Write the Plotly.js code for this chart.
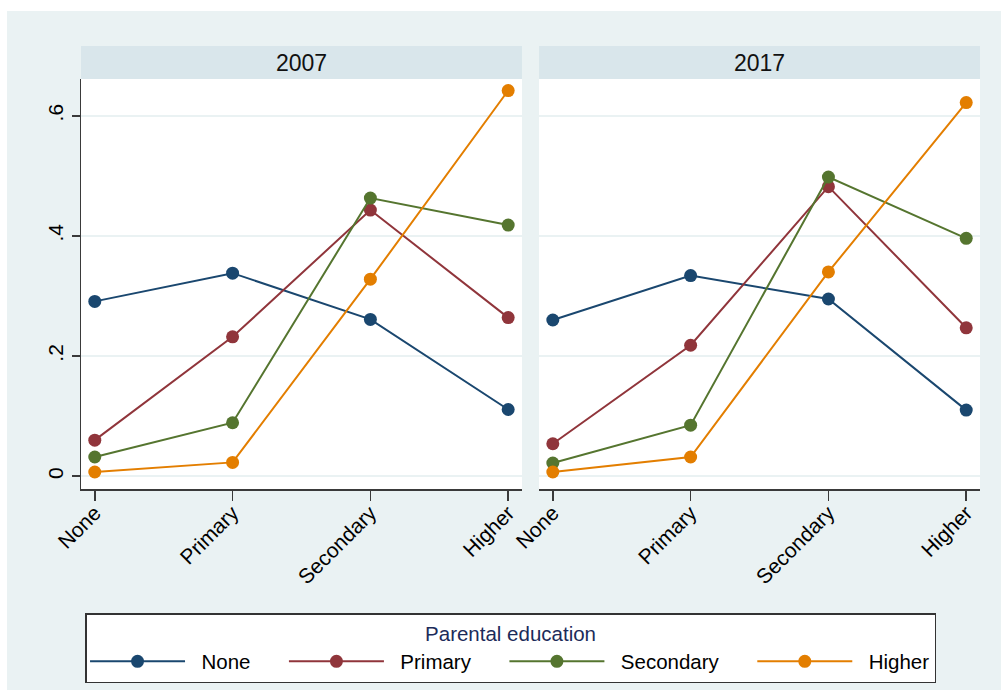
<!DOCTYPE html>
<html>
<head>
<meta charset="utf-8">
<script src="https://cdn.plot.ly/plotly-3.0.1.min.js"></script>
<style>
  html, body { margin: 0; padding: 0; background: #ffffff; }
  #chart { position: absolute; left: 7px; top: 11px; width: 994px; height: 679px; }
</style>
</head>
<body>
<div id="chart"></div>
<script>
// ---- Data ----
var categories = ['None', 'Primary', 'Secondary', 'Higher'];
var panels = ['2007', '2017'];
var seriesNames = ['None', 'Primary', 'Secondary', 'Higher'];
var legendTitle = 'Parental education';

var none2007      = [0.291, 0.338, 0.261, 0.111];
var primary2007   = [0.060, 0.232, 0.443, 0.264];
var secondary2007 = [0.032, 0.089, 0.463, 0.418];
var higher2007    = [0.007, 0.023, 0.328, 0.642];

var none2017      = [0.260, 0.334, 0.295, 0.110];
var primary2017   = [0.054, 0.218, 0.482, 0.247];
var secondary2017 = [0.022, 0.085, 0.498, 0.396];
var higher2017    = [0.007, 0.032, 0.340, 0.622];

var yTickVals = [0, 0.2, 0.4, 0.6];
var yTickText = ['0', '.2', '.4', '.6'];

// ---- Styling ----
var colors = ['#1A476F', '#90353B', '#55752F', '#E37E00'];
var FONT = '"Liberation Sans", Arial, sans-serif';
var axisColor = '#3a3a3a';
var gridColor = '#EAF2F3';
var bgColor = '#EAF2F3';
var headerColor = '#D9E6EB';

var NB = '\u00A0';
function pad(n) { return new Array(n + 1).join(NB); }
// legend label spacing (Stata puts wider gaps around legend labels)
function legendLabel(name, isLast) {
  return pad(2) + name + (isLast ? '' : pad(5));
}

var data2007 = [none2007, primary2007, secondary2007, higher2007];
var data2017 = [none2017, primary2017, secondary2017, higher2017];

var traces = [];
function addPanel(values, xa, ya, showLegend) {
  for (var i = 0; i < values.length; i++) {
    traces.push({
      type: 'scatter',
      mode: 'lines+markers',
      x: categories,
      y: values[i],
      xaxis: xa,
      yaxis: ya,
      name: legendLabel(seriesNames[i], i === values.length - 1),
      legendgroup: seriesNames[i],
      showlegend: showLegend,
      line: { color: colors[i], width: 2 },
      marker: { color: colors[i], size: 13 },
      hoverinfo: 'skip'
    });
  }
}
addPanel(data2007, 'x', 'y', true);
addPanel(data2017, 'x2', 'y2', false);

var xRange = [-0.1, 3.1];
var yRange = [-0.0213, 0.6612];

var xCommon = {
  type: 'category',
  categoryorder: 'array',
  categoryarray: categories,
  range: xRange,
  showline: true, linecolor: axisColor, linewidth: 1.5,
  ticks: 'outside', ticklen: 10, tickwidth: 1.5, tickcolor: axisColor,
  tickangle: -45,
  ticklabelstandoff: -8,
  tickfont: { family: FONT, size: 21, color: '#000' },
  showgrid: false, zeroline: false,
  automargin: false,
  fixedrange: true
};

var layout = {
  width: 994, height: 679,
  paper_bgcolor: bgColor,
  plot_bgcolor: '#ffffff',
  font: { family: FONT, size: 20, color: '#000' },
  margin: { l: 74, r: 21, t: 68, b: 200.5, pad: 0, autoexpand: false },
  showlegend: true,
  xaxis: Object.assign({}, xCommon, { domain: [0, 0.4905], anchor: 'y' }),
  xaxis2: Object.assign({}, xCommon, { domain: [0.5095, 1], anchor: 'y2' }),
  yaxis: {
    domain: [0, 1], anchor: 'x', range: yRange,
    tickvals: yTickVals, ticktext: yTickText,
    showline: true, linecolor: axisColor, linewidth: 1.5,
    ticks: 'outside', ticklen: 8, tickwidth: 1.5, tickcolor: axisColor,
    tickangle: -90,
    tickfont: { family: FONT, size: 21, color: '#000' },
    showgrid: true, gridcolor: gridColor, gridwidth: 2,
    zeroline: false, automargin: false, fixedrange: true
  },
  yaxis2: {
    domain: [0, 1], anchor: 'x2', range: yRange, matches: 'y',
    tickvals: yTickVals, showticklabels: false, ticks: '',
    showline: false,
    showgrid: true, gridcolor: gridColor, gridwidth: 2,
    zeroline: false, automargin: false, fixedrange: true
  },
  shapes: [
    { type: 'rect', xref: 'x domain', yref: 'paper', x0: 0, x1: 1, y0: 1, y1: 1.0804,
      fillcolor: headerColor, line: { width: 0 }, layer: 'below' },
    { type: 'rect', xref: 'x2 domain', yref: 'paper', x0: 0, x1: 1, y0: 1, y1: 1.0804,
      fillcolor: headerColor, line: { width: 0 }, layer: 'below' }
  ],
  annotations: [
    { xref: 'x domain', yref: 'paper', x: 0.5, y: 1.0402, text: panels[0], showarrow: false,
      xanchor: 'center', yanchor: 'middle', font: { family: FONT, size: 23, color: '#111' } },
    { xref: 'x2 domain', yref: 'paper', x: 0.5, y: 1.0402, text: panels[1], showarrow: false,
      xanchor: 'center', yanchor: 'middle', font: { family: FONT, size: 23, color: '#111' } }
  ],
  legend: {
    orientation: 'h',
    x: 0.4778, xanchor: 'center',
    y: -0.3033, yanchor: 'top',
    bgcolor: '#ffffff',
    bordercolor: '#333333', borderwidth: 1.5,
    itemwidth: 95,
    font: { family: FONT, size: 20.5, color: '#000' },
    title: { text: legendTitle, side: 'top center', font: { family: FONT, size: 20.5, color: '#1C2B5A' } },
    itemclick: false, itemdoubleclick: false
  }
};

Plotly.newPlot('chart', traces, layout, { displayModeBar: false, staticPlot: true });
</script>
</body>
</html>
